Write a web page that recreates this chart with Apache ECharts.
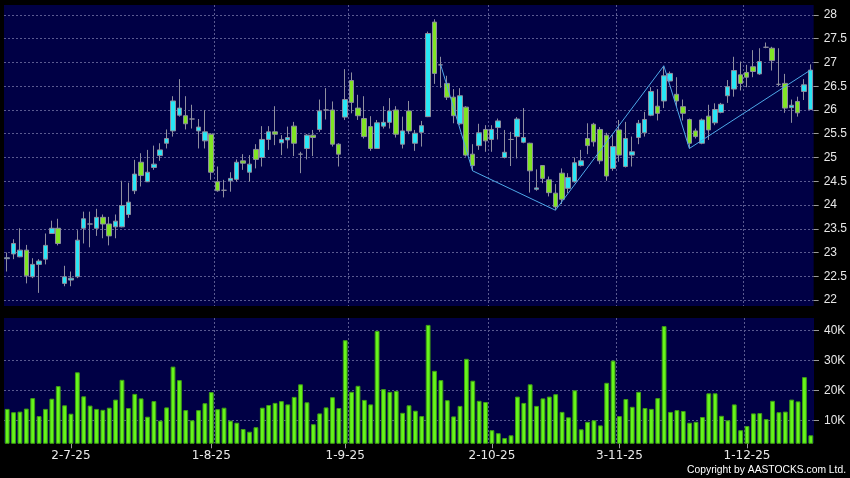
<!DOCTYPE html>
<html>
<head>
<meta charset="utf-8">
<script src="https://cdn.jsdelivr.net/npm/echarts@6/dist/echarts.min.js"></script>
<style>
  * { margin: 0; padding: 0; }
  body { background: #000; }
  #main { width: 850px; height: 478px; }
</style>
</head>
<body>
<div id="main"></div>
<script>
// daily prices, 17-6-25 .. 16-12-25 (127 trading days)
var open = [22.87,22.97,22.91,23.05,22.49,22.75,22.86,23.40,23.51,22.35,22.42,22.49,23.51,23.60,23.51,23.74,23.60,23.54,23.54,23.80,
  24.30,24.90,24.49,24.79,25.04,25.30,25.56,25.89,25.88,25.81,25.56,25.35,25.49,24.49,24.31,24.51,24.54,24.93,24.69,25.17,
  25.00,25.38,25.54,25.31,25.37,25.66,25.07,25.19,25.47,25.59,26.00,26.00,25.28,25.85,26.62,26.04,25.82,25.65,25.19,25.66,
  25.74,26.00,25.28,25.98,25.30,25.53,25.86,27.85,26.95,26.56,26.27,25.71,26.06,25.07,25.25,25.59,25.38,25.63,25.00,25.38,
  25.44,25.32,25.30,24.33,24.83,24.53,24.25,24.67,24.35,24.49,24.83,25.40,25.70,25.59,25.47,24.77,25.58,24.81,25.05,25.42,
  25.52,25.89,26.08,26.19,26.61,26.33,26.07,25.80,25.56,25.30,25.87,25.73,25.95,26.30,26.44,26.74,26.79,26.91,26.76,27.32,
  27.30,26.54,26.56,26.05,26.18,26.39,26.01];
var close = [22.89,23.19,23.05,22.51,22.75,22.82,23.15,23.51,23.19,22.49,22.46,23.26,23.71,23.60,23.74,23.60,23.35,23.66,23.99,24.06,
  24.65,24.62,24.69,24.86,25.16,25.40,26.19,26.04,25.71,25.81,25.64,25.54,24.69,24.30,24.31,24.56,24.90,24.88,24.86,24.96,
  25.38,25.54,25.49,25.38,25.42,25.30,25.07,25.47,25.42,25.98,26.00,25.28,25.07,26.22,26.16,25.88,25.44,25.19,25.73,25.74,
  25.98,25.49,25.56,25.56,25.51,25.67,27.61,26.77,26.95,26.27,25.88,26.30,25.05,24.83,25.52,25.35,25.59,25.77,25.11,25.38,
  25.81,25.42,24.72,24.36,24.56,24.26,23.96,24.12,24.58,24.89,24.93,25.25,25.33,24.93,24.61,25.23,25.05,25.40,25.12,25.72,
  25.80,26.39,25.93,26.72,26.77,26.19,25.93,25.30,25.44,25.79,25.58,26.01,26.12,26.49,26.83,26.56,26.69,26.81,27.02,27.32,
  27.04,26.54,26.04,26.10,25.94,26.53,26.84];
var low = [22.60,22.86,22.90,22.35,22.46,22.15,22.75,23.39,23.15,22.29,22.29,22.46,23.19,23.11,23.35,23.30,23.15,23.30,23.53,23.73,
  24.23,24.39,24.49,24.74,24.93,25.19,25.44,25.86,25.59,25.61,25.19,25.19,24.53,24.28,24.16,24.28,24.49,24.74,24.49,24.77,
  24.81,25.16,25.26,25.05,25.19,25.03,24.67,24.96,25.03,25.54,25.80,25.23,24.81,25.79,25.93,25.79,25.40,25.14,25.18,25.61,
  25.61,25.42,25.19,25.49,25.14,25.23,25.85,26.55,26.47,26.21,25.72,25.68,25.02,24.72,25.16,25.12,25.12,25.38,24.98,24.82,
  24.98,25.30,24.26,24.30,24.46,24.18,23.89,24.02,24.25,24.47,24.81,25.07,25.23,24.86,24.51,24.72,24.91,24.79,24.81,25.28,
  25.44,25.87,25.78,26.04,26.60,26.07,25.78,25.19,25.40,25.28,25.37,25.68,25.93,26.15,26.28,26.41,26.48,26.69,26.74,27.30,
  26.83,26.50,25.94,25.73,25.86,26.21,26.00];
var high = [23.00,23.28,23.51,23.16,22.88,22.86,23.40,23.67,23.71,22.72,22.60,23.47,23.86,23.86,23.92,23.80,23.75,23.80,24.51,24.47,
  24.95,25.09,25.16,25.25,25.30,25.59,26.29,26.65,26.29,26.11,25.81,26.00,25.51,24.81,24.53,24.69,24.96,25.07,25.05,25.28,
  25.66,25.66,26.08,25.47,25.65,25.75,25.12,25.49,25.58,26.22,26.46,26.18,25.30,26.86,26.79,26.32,26.29,25.87,25.79,26.08,
  26.25,26.08,25.86,26.19,25.58,25.77,27.65,27.91,27.12,26.72,26.44,26.46,26.08,25.28,25.71,25.68,25.68,25.82,25.58,25.54,
  25.85,26.04,25.31,24.75,24.84,24.60,24.44,24.77,24.67,25.00,25.16,25.72,25.73,25.64,25.52,25.47,25.79,25.75,25.44,25.79,
  25.96,26.48,26.44,26.93,26.81,26.69,26.22,25.82,25.61,25.82,26.11,26.14,26.15,26.63,27.12,27.02,26.95,27.26,27.30,27.42,
  27.33,27.30,26.76,26.22,26.28,26.65,26.96];
// volume in thousands of shares
var volume = [13.8,12.7,12.9,13.9,17.4,11.4,13.8,17.2,21.4,15.0,12.2,26.0,18.0,14.9,13.8,13.5,14.2,16.9,23.5,14.1,
  18.8,17.3,11.2,16.4,9.9,14.3,27.9,23.4,13.4,10.0,13.4,15.7,19.4,13.7,14.2,9.9,9.2,7.1,6.2,7.7,
  14.2,15.1,15.8,16.4,15.3,17.8,22.0,16.0,8.7,12.3,14.3,17.7,14.1,36.7,19.5,21.5,16.8,15.3,39.8,20.4,
  19.5,19.8,12.5,15.0,13.2,11.4,41.8,26.5,23.4,16.7,11.3,14.8,30.5,23.2,16.5,16.1,6.7,5.7,4.1,5.0,
  17.9,15.8,22.0,14.8,17.3,17.9,18.7,12.8,11.0,20.0,7.0,9.5,10.0,8.3,22.5,29.9,11.4,17.1,14.5,19.5,
  14.1,13.8,17.4,41.4,12.8,13.4,13.1,9.2,9.5,11.1,19.0,19.0,11.5,10.0,15.3,6.7,8.1,12.3,12.4,10.4,
  16.5,12.7,12.9,16.9,16.3,24.4,5.0];
// swing line (day index, price)
var swingIdx = [68, 73, 86, 103, 107, 126];
var swingVal = [26.95, 24.72, 23.89, 26.93, 25.19, 26.84];
// date ticks
var tickIdx = [10, 32, 53, 76, 96, 116];
var tickLabels = ['2-7-25', '1-8-25', '1-9-25', '2-10-25', '3-11-25', '1-12-25'];
var gridIdx = [11, 33, 54, 76, 96, 116];

var NAVY = '#000045';
var GRIDLINE = { color: '#5a5a90', width: 1, type: [2, 2] };

var days = open.map(function (v, i) { return String(i); });
var candles = open.map(function (v, i) { return [open[i], close[i], low[i], high[i]]; });
var swing = swingIdx.map(function (k, j) { return [k, swingVal[j]]; });

var chart = echarts.init(document.getElementById('main'));
chart.setOption({
  backgroundColor: '#000',
  animation: false,
  grid: [
    { left: 4, top: 5, width: 810, height: 301, show: true, backgroundColor: NAVY, borderWidth: 0 },
    { left: 4, top: 318, width: 810, height: 125.3, show: true, backgroundColor: NAVY, borderWidth: 0 }
  ],
  xAxis: [
    {
      type: 'category', gridIndex: 0, data: days,
      axisLine: { show: false }, axisTick: { show: false }, axisLabel: { show: false },
      splitLine: { show: true, showMinLine: false, showMaxLine: false, interval: function (i) { return gridIdx.indexOf(i) >= 0; }, lineStyle: GRIDLINE }
    },
    {
      type: 'category', gridIndex: 1, data: days,
      axisLine: { show: false },
      axisTick: { show: true, alignWithLabel: true, length: 5, interval: function (i) { return tickIdx.indexOf(i) >= 0; }, lineStyle: { color: '#9a9a9a' } },
      axisLabel: {
        interval: function (i) { return tickIdx.indexOf(i) >= 0; },
        formatter: function (v, i) { var k = tickIdx.indexOf(i); return k >= 0 ? tickLabels[k] : ''; },
        color: '#e8e8e8', fontFamily: 'DejaVu Sans', fontSize: 12, margin: 7
      },
      splitLine: { show: true, showMinLine: false, showMaxLine: false, interval: function (i) { return gridIdx.indexOf(i) >= 0; }, lineStyle: GRIDLINE }
    }
  ],
  yAxis: [
    {
      type: 'value', gridIndex: 0, position: 'right',
      min: 21.874, max: 28.21, minInterval: 0.5, maxInterval: 0.5,
      axisLine: { show: false },
      axisTick: { show: true, length: 5, lineStyle: { color: '#9a9a9a' } },
      axisLabel: { showMinLabel: false, showMaxLabel: false, color: '#e8e8e8', fontFamily: 'Liberation Sans', fontSize: 12, margin: 10 },
      splitLine: { show: true, showMinLine: false, showMaxLine: false, lineStyle: GRIDLINE }
    },
    {
      type: 'value', gridIndex: 1, position: 'right',
      min: 2.333, max: 44.1, minInterval: 10, maxInterval: 10,
      axisLine: { show: false },
      axisTick: { show: true, length: 5, lineStyle: { color: '#9a9a9a' } },
      axisLabel: { showMinLabel: false, showMaxLabel: false, formatter: '{value}K', color: '#e8e8e8', fontFamily: 'Liberation Sans', fontSize: 12, margin: 10 },
      splitLine: { show: true, showMinLine: false, showMaxLine: false, lineStyle: GRIDLINE }
    }
  ],
  series: [
    {
      type: 'candlestick', xAxisIndex: 0, yAxisIndex: 0, data: candles, barWidth: 5,
      itemStyle: { color: '#28e6f6', color0: '#80e424', borderColor: '#8e8e9e', borderColor0: '#8e8e9e', borderWidth: 1 }
    },
    {
      type: 'line', xAxisIndex: 0, yAxisIndex: 0, data: swing, symbol: 'none', z: 3,
      lineStyle: { color: '#4ea8e8', width: 1 }
    },
    {
      type: 'bar', xAxisIndex: 1, yAxisIndex: 1, data: volume, barWidth: 4.8,
      itemStyle: { color: '#66f51c', borderColor: '#3f9e14', borderWidth: 1 }
    }
  ],
  graphic: [
    {
      type: 'text', right: 4, top: 465,
      style: { text: 'Copyright by AASTOCKS.com Ltd.', fill: '#ffffff', font: '10.3px "Liberation Sans"' }
    }
  ]
});
</script>
</body>
</html>
